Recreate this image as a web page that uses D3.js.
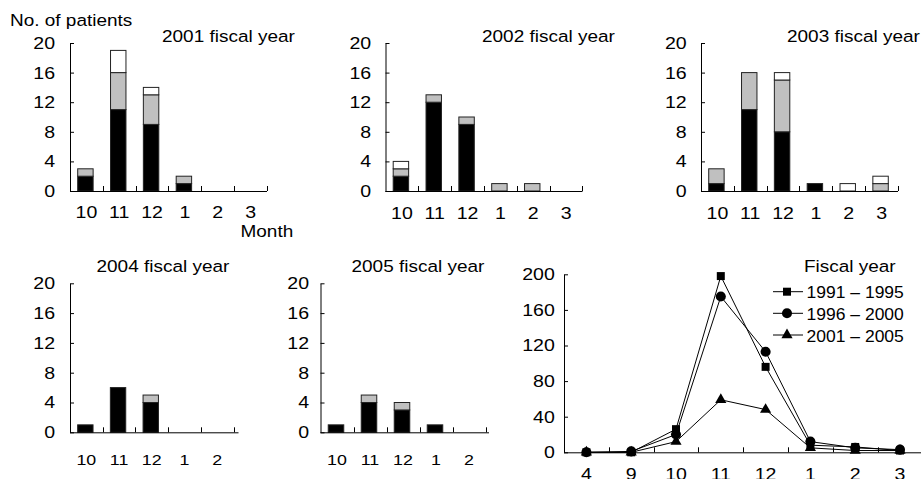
<!DOCTYPE html>
<html><head><meta charset="utf-8">
<script src="https://cdn.jsdelivr.net/npm/d3@7"></script>
<style>
html,body{margin:0;padding:0;background:#fff;}
svg{display:block;font-family:"Liberation Sans",Arial,Helvetica,sans-serif;}
</style></head><body>
<svg id="chart" width="921" height="479"></svg>
<script>
// Months of the fiscal year shown in each histogram
const months6 = ["10", "11", "12", "1", "2", "3"];
const months5 = ["10", "11", "12", "1", "2"];
const countTicks = [0, 4, 8, 12, 16, 20];

// Patients per month, split into three stacked groups (black / gray / white)
const fy2001Black = [2, 11, 9, 1, 0, 0];
const fy2001Gray  = [1, 5, 4, 1, 0, 0];
const fy2001White = [0, 3, 1, 0, 0, 0];

const fy2002Black = [2, 12, 9, 0, 0, 0];
const fy2002Gray  = [1, 1, 1, 1, 1, 0];
const fy2002White = [1, 0, 0, 0, 0, 0];

const fy2003Black = [1, 11, 8, 1, 0, 0];
const fy2003Gray  = [2, 5, 7, 0, 0, 1];
const fy2003White = [0, 0, 1, 0, 1, 1];

const fy2004Black = [1, 6, 4, 0, 0];
const fy2004Gray  = [0, 0, 1, 0, 0];
const fy2004White = [0, 0, 0, 0, 0];

const fy2005Black = [1, 4, 3, 1, 0];
const fy2005Gray  = [0, 1, 1, 0, 0];
const fy2005White = [0, 0, 0, 0, 0];

// Five-year totals by month
const lineMonths = ["4", "9", "10", "11", "12", "1", "2", "3"];
const totalTicks = [0, 40, 80, 120, 160, 200];
const fy1991to1995 = [0, 0, 26, 198, 96, 8, 6, 2];
const fy1996to2000 = [0, 1, 20, 175, 113, 12, 5, 3];
const fy2001to2005 = [0, 0, 12, 59, 48, 5, 2, 2];
const seriesNames = ["1991 \u2013 1995", "1996 \u2013 2000", "2001 \u2013 2005"];

const svg = d3.select("#chart");
const SX = 1.15;                       // horizontal stretch of the lettering
const fills = { black: "#000", gray: "#c0c0c0", white: "#fff" };

function label(x, y, str, size, sx = SX, anchor = "start") {
  svg.append("g")
    .attr("transform", `translate(${x},${y}) scale(${sx},1)`)
    .append("text")
    .attr("text-anchor", anchor)
    .attr("font-size", size)
    .attr("fill", "#000")
    .text(str);
}

function styleAxis(a, size) {
  a.attr("font-family", null).attr("font-size", null);
  a.selectAll("text").attr("font-size", size).attr("fill", "#000")
    .attr("transform", `scale(${SX},1)`);
  a.selectAll("line,path").attr("stroke", "#000");
}

function barPanel(p) {
  const n = p.months.length;
  const x = d3.scaleBand().domain(p.months).range([p.left, p.left + p.step * n]);
  const y = d3.scaleLinear().domain([0, 20]).range([p.bottom, p.top]);
  const g = svg.append("g");

  const rows = p.months.map((m, i) => ({ month: m, black: p.black[i], gray: p.gray[i], white: p.white[i] }));
  const stacked = d3.stack().keys(["black", "gray", "white"])(rows);
  const bw = x.bandwidth() * 0.47;

  g.selectAll("g.seg").data(stacked).join("g")
    .attr("class", "seg")
    .attr("fill", d => fills[d.key])
    .selectAll("rect").data(d => d.filter(s => s[1] > s[0])).join("rect")
    .attr("x", d => x(d.data.month) + x.bandwidth() / 2 - 1 - bw / 2)
    .attr("y", d => y(d[1]))
    .attr("width", bw)
    .attr("height", d => y(d[0]) - y(d[1]))
    .attr("stroke", "#222")
    .attr("stroke-width", 1);

  // value axis, ticks pointing inward
  g.append("g").attr("transform", `translate(${p.left},0)`)
    .call(d3.axisLeft(y).tickValues(countTicks).tickSize(-4).tickSizeOuter(0).tickPadding(p.yPad))
    .call(a => styleAxis(a, 17));

  // month labels
  g.append("g").attr("transform", `translate(0,${p.bottom})`)
    .call(d3.axisBottom(x).tickSize(0).tickPadding(p.xPad))
    .call(a => { a.select(".domain").remove(); styleAxis(a, p.xSize); });

  // base line with separators between months
  g.append("line")
    .attr("x1", p.left).attr("x2", p.axisEnd)
    .attr("y1", p.bottom + 0.5).attr("y2", p.bottom + 0.5)
    .attr("stroke", "#000");
  g.selectAll("line.sep").data(p.months).join("line")
    .attr("class", "sep")
    .attr("x1", m => Math.round(x(m) + x.bandwidth()) + 0.5)
    .attr("x2", m => Math.round(x(m) + x.bandwidth()) + 0.5)
    .attr("y1", p.bottom).attr("y2", p.bottom - 5)
    .attr("stroke", "#000");

  label(p.titleX, p.titleY, p.title, 16.5);
}

barPanel({ title: "2001 fiscal year", months: months6, black: fy2001Black, gray: fy2001Gray, white: fy2001White,
  left: 70, step: 32.83, axisEnd: 267, top: 43, bottom: 191, yPad: 13, xPad: 14.5, xSize: 17, titleX: 162, titleY: 41.5 });
barPanel({ title: "2002 fiscal year", months: months6, black: fy2002Black, gray: fy2002Gray, white: fy2002White,
  left: 385.5, step: 32.83, axisEnd: 582.5, top: 43, bottom: 191, yPad: 12.5, xPad: 15.5, xSize: 17, titleX: 482, titleY: 41.5 });
barPanel({ title: "2003 fiscal year", months: months6, black: fy2003Black, gray: fy2003Gray, white: fy2003White,
  left: 701, step: 32.83, axisEnd: 898, top: 43, bottom: 191, yPad: 12.5, xPad: 15.5, xSize: 17, titleX: 787, titleY: 41.5 });
barPanel({ title: "2004 fiscal year", months: months5, black: fy2004Black, gray: fy2004Gray, white: fy2004White,
  left: 70, step: 32.7, axisEnd: 238.5, top: 283.3, bottom: 432.3, yPad: 13, xPad: 22, xSize: 15.5, titleX: 96.5, titleY: 272 });
barPanel({ title: "2005 fiscal year", months: months5, black: fy2005Black, gray: fy2005Gray, white: fy2005White,
  left: 320.5, step: 33, axisEnd: 489, top: 283.3, bottom: 432.3, yPad: 10, xPad: 22, xSize: 15.5, titleX: 351.5, titleY: 271.5 });

label(10, 26, "No. of patients", 16.5);
label(240.5, 237.3, "Month", 16.5);

// ---- five-year comparison ----
(function () {
  const left = 564, top = 274.3, bottom = 452.3;
  const x = d3.scaleBand().domain(lineMonths).range([left, left + 44.8 * lineMonths.length]);
  const y = d3.scaleLinear().domain([0, 200]).range([bottom, top]);
  const cx = m => x(m) + x.bandwidth() / 2;
  const g = svg.append("g");

  g.append("g").attr("transform", `translate(${left},0)`)
    .call(d3.axisLeft(y).tickValues(totalTicks).tickSize(-4).tickSizeOuter(0).tickPadding(8))
    .call(a => styleAxis(a, 17));

  g.append("g").attr("transform", `translate(0,${bottom})`)
    .call(d3.axisBottom(x).tickSize(0).tickPadding(15.4))
    .call(a => { a.select(".domain").remove(); styleAxis(a, 17); });

  g.append("line").attr("x1", left).attr("x2", 921)
    .attr("y1", bottom + 0.5).attr("y2", bottom + 0.5).attr("stroke", "#000");
  g.selectAll("line.sep").data(lineMonths.slice(0, -1)).join("line")
    .attr("class", "sep")
    .attr("x1", m => Math.round(x(m) + x.bandwidth()) + 0.5)
    .attr("x2", m => Math.round(x(m) + x.bandwidth()) + 0.5)
    .attr("y1", bottom).attr("y2", bottom - 5).attr("stroke", "#000");

  const symbols = [d3.symbol(d3.symbolSquare, 64), d3.symbol(d3.symbolCircle, 80), d3.symbol(d3.symbolTriangle, 54)];
  const series = [fy1991to1995, fy1996to2000, fy2001to2005];
  const line = d3.line().x((d, i) => cx(lineMonths[i])).y(d => y(d));

  series.forEach((vals, k) => {
    g.append("path").attr("d", line(vals)).attr("fill", "none").attr("stroke", "#000").attr("stroke-width", 1);
    g.selectAll(null).data(vals).join("path")
      .attr("transform", (d, i) => `translate(${cx(lineMonths[i])},${y(d)})`)
      .attr("d", symbols[k]())
      .attr("fill", "#000");
  });

  // legend
  label(804, 271.7, "Fiscal year", 16.5);
  const rowY = [291.7, 313.3, 335];
  seriesNames.forEach((name, k) => {
    g.append("line").attr("x1", 773).attr("x2", 803)
      .attr("y1", rowY[k]).attr("y2", rowY[k]).attr("stroke", "#000");
    g.append("path").attr("transform", `translate(787,${rowY[k]})`).attr("d", symbols[k]()).attr("fill", "#000");
    label(806.5, rowY[k] + 6.6, name, 17, 1.03);
  });
})();
</script>
</body></html>
